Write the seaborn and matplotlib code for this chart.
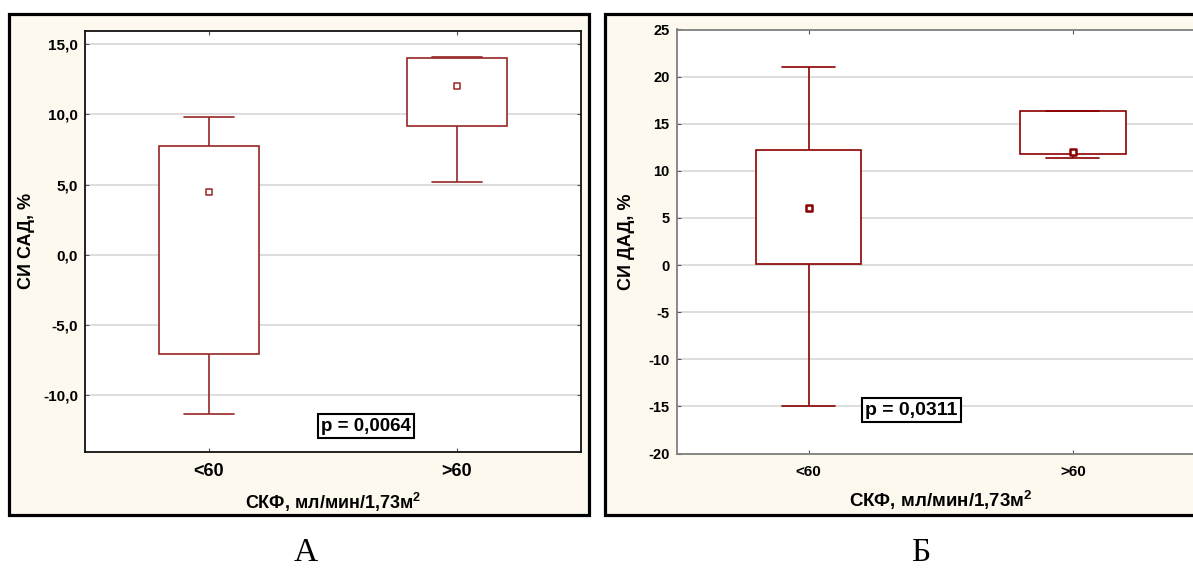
import matplotlib
matplotlib.use("Agg")
import matplotlib.pyplot as plt
from matplotlib.patches import Rectangle
from matplotlib.ticker import FuncFormatter
import pandas as pd
import seaborn as sns

groups = ['<60', '>60']

# panel A: СИ САД, five-number summary per group (min, 25%, median, 75%, max)
sad_min = [-11.3, 5.15]
sad_q1 = [-7.05, 9.2]
sad_med = [4.5, 12.0]
sad_q3 = [7.75, 14.0]
sad_max = [9.8, 14.1]
sad_ticks = [-10, -5, 0, 5, 10, 15]
sad_p = 'p = 0,0064'

# panel Б: СИ ДАД
dad_min = [-15.0, 11.35]
dad_q1 = [0.1, 11.75]
dad_med = [6.1, 12.0]
dad_q3 = [12.2, 16.4]
dad_max = [21.0, 16.4]
dad_ticks = [-20, -15, -10, -5, 0, 5, 10, 15, 20, 25]
dad_p = 'p = 0,0311'

xlab = r'СКФ, мл/мин/1,73м$^{\mathbf{2}}$'

W, H = 1193, 569
CREAM = '#fef9ee'


def px_rect(l, t, r, b):
    return [l / W, 1 - b / H, (r - l) / W, (b - t) / H]


def to_long(mins, q1, med, q3, maxs):
    # 5 values per group -> 25/75 percentiles land exactly on q1/q3
    rows = []
    for i, g in enumerate(groups):
        for v in (mins[i], q1[i], med[i], q3[i], maxs[i]):
            rows.append({'group': g, 'value': v})
    return pd.DataFrame(rows)


sns.set_style('white')
plt.rcParams['font.family'] = ['Liberation Sans', 'DejaVu Sans']
plt.rcParams['font.weight'] = 'bold'
plt.rcParams['mathtext.fontset'] = 'custom'
plt.rcParams['mathtext.bf'] = 'Liberation Sans:bold'
for k in ['text.color', 'axes.labelcolor', 'xtick.labelcolor', 'ytick.labelcolor']:
    plt.rcParams[k] = 'black'

fig = plt.figure(figsize=(W / 100, H / 100), dpi=100)

# cream frames behind the two panels
for l, r in [(8.5, 589), (604.5, 1215)]:
    fig.patches.append(Rectangle((l / W, 1 - 515 / H), (r - l) / W, (515 - 14) / H,
                                 transform=fig.transFigure, fc=CREAM, ec='black',
                                 lw=2.3, zorder=-1))


def panel(ax, df, med, ticks, ylim, fmt, col, spine_col, ylabel, ptext, pxy,
          msize, mlw, tick_fs, xtick_fs, xlab_fs, p_fs, xlab_y, ylab_x):
    sns.boxplot(data=df, x='group', y='value', order=groups, width=0.4,
                whis=(0, 100), color='white', linecolor=col, linewidth=1.2,
                showfliers=False, medianprops={'visible': False}, ax=ax)
    sns.stripplot(x=groups, y=med, order=groups, jitter=False, marker='s',
                  size=msize, color='white', edgecolor=col, linewidth=mlw,
                  zorder=5, ax=ax)
    ax.set_xlim(-0.5, 1.5)
    ax.set_ylim(*ylim)
    ax.set_yticks(ticks)
    ax.yaxis.set_major_formatter(FuncFormatter(fmt))
    ax.yaxis.grid(True, color='#d8d8d8', lw=1.2)
    ax.xaxis.grid(False)
    ax.set_axisbelow(True)
    for s in ax.spines.values():
        s.set_color(spine_col)
        s.set_linewidth(1.3)
    ax.tick_params(axis='both', direction='in', length=3, color='#555555',
                   top=True, right=True, left=True, bottom=True)
    ax.tick_params(axis='y', labelsize=tick_fs, pad=5)
    ax.tick_params(axis='x', labelsize=xtick_fs, pad=8)
    for t in ax.get_xticklabels() + ax.get_yticklabels():
        t.set_fontweight('bold')
    ax.set_xlabel(xlab, fontsize=xlab_fs, fontweight='bold')
    ax.set_ylabel(ylabel, fontsize=13, fontweight='bold')
    ax.xaxis.set_label_coords(0.5, xlab_y)
    ax.yaxis.set_label_coords(ylab_x, 0.5)
    ax.text(pxy[0], pxy[1], ptext, ha='center', va='center', fontsize=p_fs,
            fontweight='bold', zorder=6,
            bbox=dict(boxstyle='square,pad=0.18', fc='white', ec='black', lw=1.5))


axA = fig.add_axes(px_rect(85, 30.7, 581, 451.5))
panel(axA, to_long(sad_min, sad_q1, sad_med, sad_q3, sad_max), sad_med,
      sad_ticks, (-14, 15.95), lambda v, p: f'{v:.1f}'.replace('.', ','),
      '#982626', '#111111', 'СИ САД, %', sad_p, (0.633, -12.2),
      5, 1.1, 11, 13, 13, 13.5, -0.094, -0.1)

axB = fig.add_axes(px_rect(676.5, 29.5, 1205, 453.5))
panel(axB, to_long(dad_min, dad_q1, dad_med, dad_q3, dad_max), dad_med,
      dad_ticks, (-20, 25), lambda v, p: f'{v:.0f}',
      '#8b0000', '#7f7f7f', 'СИ ДАД, %', dad_p, (0.389, -15.4),
      4, 1.8, 10.5, 11, 13.5, 14, -0.082, -0.078)

fig.text(306 / W, 1 - 568 / H, 'А', ha='center', va='bottom',
         family='Liberation Serif', fontweight='normal', fontsize=24)
fig.text(921 / W, 1 - 568 / H, 'Б', ha='center', va='bottom',
         family='Liberation Serif', fontweight='normal', fontsize=24)

fig.savefig('out.png', dpi=100, facecolor='white')
